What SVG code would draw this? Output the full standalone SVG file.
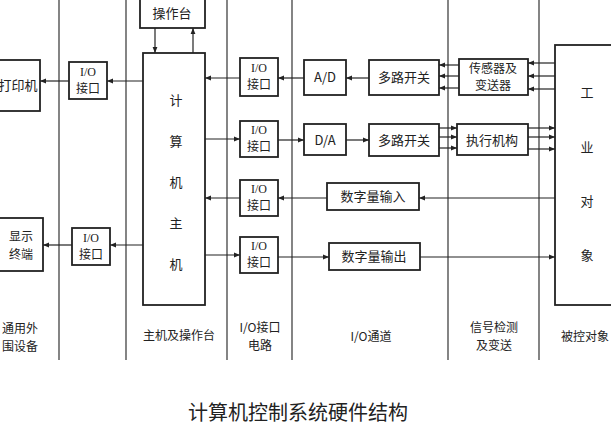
<svg xmlns="http://www.w3.org/2000/svg" width="611" height="425" viewBox="0 0 611 425">
<style>
text{font-family:"Noto Sans CJK SC","Liberation Serif",serif;fill:#222;text-anchor:middle}
.b{fill:#fff;stroke:#222;stroke-width:1.8}
.t{font-size:13px}
.u{font-size:12px}
.s{font-size:12px;font-family:"Liberation Serif","Noto Sans CJK SC",serif}
.l{font-size:12px}
.c{stroke:#222;stroke-width:1.2;fill:none}
.v{stroke:#333;stroke-width:1.2}
</style>
<defs><marker id="a" viewBox="0 0 10 10" refX="10" refY="5" markerWidth="9" markerHeight="6" orient="auto" markerUnits="userSpaceOnUse"><path d="M0,1 L10,5 L0,9Z" fill="#222"/></marker></defs>
<rect width="611" height="425" fill="#fff"/>
<g id="columns" class="v">
<line x1="59" y1="0" x2="59" y2="360"/><line x1="126" y1="0" x2="126" y2="360"/><line x1="227" y1="0" x2="227" y2="360"/><line x1="292" y1="0" x2="292" y2="360"/><line x1="448" y1="0" x2="448" y2="360"/><line x1="539" y1="0" x2="539" y2="360"/>
</g>
<g id="connectors" class="c" marker-end="url(#a)">
<line x1="155" y1="28" x2="155" y2="53"/><line x1="193" y1="53" x2="193" y2="28"/>
<line x1="143" y1="81" x2="107" y2="81"/><line x1="69" y1="81" x2="40" y2="81"/>
<line x1="143" y1="245" x2="110" y2="245"/><line x1="72" y1="245" x2="43" y2="245"/>
<line x1="240" y1="78" x2="205" y2="78"/><line x1="205" y1="139" x2="240" y2="139"/>
<line x1="240" y1="198" x2="205" y2="198"/><line x1="205" y1="255" x2="240" y2="255"/>
<line x1="304" y1="78" x2="278" y2="78"/><line x1="369" y1="78" x2="346" y2="78"/>
<line x1="459" y1="65" x2="439" y2="65"/><line x1="459" y1="76" x2="439" y2="76"/><line x1="459" y1="88" x2="439" y2="88"/>
<line x1="555" y1="63" x2="528" y2="63"/><line x1="555" y1="76" x2="528" y2="76"/><line x1="555" y1="89" x2="528" y2="89"/>
<line x1="278" y1="140" x2="304" y2="140"/><line x1="346" y1="140" x2="369" y2="140"/>
<line x1="439" y1="128" x2="457" y2="128"/><line x1="439" y1="137" x2="457" y2="137"/><line x1="439" y1="148" x2="457" y2="148"/>
<line x1="528" y1="128" x2="555" y2="128"/><line x1="528" y1="137" x2="555" y2="137"/><line x1="528" y1="149" x2="555" y2="149"/>
<line x1="555" y1="198" x2="419" y2="198"/><line x1="327" y1="198" x2="278" y2="198"/>
<line x1="278" y1="257" x2="329" y2="257"/><line x1="420" y1="257" x2="555" y2="257"/>
</g>
<g id="console"><rect class="b" x="140" y="-5" width="65" height="33"/><text class="t" x="172" y="18">操作台</text></g>
<g id="host"><rect class="b" x="143" y="53" width="62" height="252"/>
<text class="t" x="176" y="105">计</text><text class="t" x="176" y="146">算</text><text class="t" x="176" y="187">机</text><text class="t" x="176" y="228">主</text><text class="t" x="176" y="269">机</text></g>
<g id="printer"><rect class="b" x="-10" y="60" width="50" height="51"/><text class="t" x="18" y="90">打印机</text></g>
<g id="display"><rect class="b" x="-10" y="218" width="53" height="53"/><text class="u" x="21" y="241">显示</text><text class="u" x="21" y="259">终端</text></g>
<g id="io1"><rect class="b" x="69" y="62" width="38" height="37"/><text class="s" x="88" y="76">I/O</text><text class="s" x="88" y="93">接口</text></g>
<g id="io2"><rect class="b" x="72" y="228" width="38" height="37"/><text class="s" x="91" y="242">I/O</text><text class="s" x="91" y="259">接口</text></g>
<g id="io3"><rect class="b" x="240" y="58" width="38" height="38"/><text class="s" x="259" y="72">I/O</text><text class="s" x="259" y="89">接口</text></g>
<g id="io4"><rect class="b" x="240" y="121" width="38" height="36"/><text class="s" x="259" y="134">I/O</text><text class="s" x="259" y="151">接口</text></g>
<g id="io5"><rect class="b" x="240" y="180" width="38" height="36"/><text class="s" x="259" y="193">I/O</text><text class="s" x="259" y="210">接口</text></g>
<g id="io6"><rect class="b" x="240" y="237" width="38" height="36"/><text class="s" x="259" y="250">I/O</text><text class="s" x="259" y="267">接口</text></g>
<g id="ad"><rect class="b" x="304" y="60" width="42" height="35"/><text class="t" x="325" y="82">A/D</text></g>
<g id="da"><rect class="b" x="304" y="124" width="42" height="31"/><text class="t" x="325" y="145">D/A</text></g>
<g id="mux1"><rect class="b" x="369" y="60" width="70" height="35"/><text class="t" x="404" y="82">多路开关</text></g>
<g id="mux2"><rect class="b" x="369" y="124" width="70" height="32"/><text class="t" x="404" y="145">多路开关</text></g>
<g id="sensor"><rect class="b" x="459" y="59" width="69" height="36"/><text class="u" x="493" y="73">传感器及</text><text class="u" x="493" y="90">变送器</text></g>
<g id="actuator"><rect class="b" x="457" y="124" width="71" height="31"/><text class="t" x="492" y="145">执行机构</text></g>
<g id="din"><rect class="b" x="327" y="183" width="92" height="27"/><text class="t" x="373" y="201">数字量输入</text></g>
<g id="dout"><rect class="b" x="329" y="243" width="91" height="27"/><text class="t" x="374" y="261">数字量输出</text></g>
<g id="plant"><rect class="b" x="555" y="45" width="70" height="260"/>
<text class="t" x="587" y="97">工</text><text class="t" x="587" y="152">业</text><text class="t" x="587" y="206">对</text><text class="t" x="587" y="260">象</text></g>
<g id="labels" class="l">
<text x="20" y="333">通用外</text><text x="20" y="351">围设备</text>
<text x="179" y="340">主机及操作台</text>
<text x="260" y="332">I/O接口</text><text x="260" y="350">电路</text>
<text x="371" y="341">I/O通道</text>
<text x="494" y="332">信号检测</text><text x="494" y="350">及变送</text>
<text x="585" y="341">被控对象</text>
<text x="298" y="420" style="font-size:20px">计算机控制系统硬件结构</text>
</g>
</svg>
